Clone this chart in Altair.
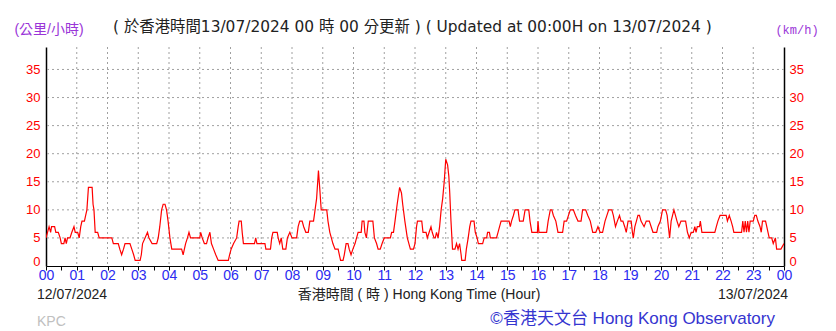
import altair as alt
import pandas as pd

# ---- data (hour of day, wind speed km/h) ----
hours = [0.00,0.05,0.10,0.15,0.18,0.28,0.32,0.40,0.46,0.50,0.58,0.62,0.66,0.70,0.78,0.84,0.91,0.95,1.03,1.08,
         1.13,1.17,1.25,1.29,1.33,1.38,1.50,1.53,1.56,1.60,1.68,1.73,2.14,2.19,2.35,2.40,2.46,2.52,2.57,2.73,
         2.79,2.85,2.90,3.06,3.10,3.14,3.22,3.30,3.35,3.45,3.60,3.65,3.70,3.76,3.81,3.87,3.92,3.97,4.03,4.09,
         4.41,4.46,4.50,4.54,4.60,4.65,4.70,5.00,5.03,5.08,5.15,5.22,5.27,5.33,5.38,5.45,5.52,5.60,5.93,5.97,
         6.02,6.10,6.20,6.25,6.28,6.35,6.38,6.42,6.78,6.82,6.86,7.12,7.15,7.30,7.34,7.38,7.52,7.55,7.60,7.65,
         7.70,7.80,7.85,7.93,8.00,8.15,8.20,8.25,8.33,8.38,8.45,8.53,8.58,8.70,8.75,8.80,8.86,8.90,8.95,9.13,
         9.17,9.23,9.28,9.33,9.40,9.50,9.54,9.58,9.66,9.70,9.76,9.82,9.86,9.92,9.98,10.05,10.10,10.15,10.25,10.28,
         10.34,10.37,10.42,10.48,10.63,10.68,10.75,10.80,10.87,10.93,11.00,11.20,11.24,11.30,11.35,11.42,11.50,11.56,11.60,11.67,
         11.75,11.85,11.95,12.00,12.05,12.08,12.22,12.26,12.36,12.40,12.46,12.52,12.56,12.62,12.66,12.70,12.75,12.80,12.85,12.90,
         12.95,13.00,13.06,13.10,13.13,13.17,13.22,13.30,13.35,13.40,13.45,13.50,13.52,13.63,13.67,13.73,13.78,13.82,13.92,13.96,
         14.02,14.06,14.20,14.25,14.33,14.36,14.42,14.45,14.65,14.70,14.75,14.80,15.06,15.10,15.14,15.20,15.25,15.35,15.40,15.52,
         15.58,15.70,15.74,15.80,15.98,16.00,16.03,16.28,16.33,16.40,16.45,16.50,16.58,16.65,16.80,16.85,16.93,17.05,17.15,17.22,
         17.30,17.40,17.45,17.55,17.62,17.70,17.78,17.88,17.95,18.02,18.10,18.18,18.30,18.40,18.45,18.52,18.58,18.65,18.70,18.76,
         18.82,18.87,18.93,19.03,19.07,19.10,19.15,19.20,19.25,19.30,19.35,19.45,19.52,19.62,19.68,19.74,19.86,19.90,19.98,20.05,
         20.15,20.20,20.24,20.28,20.33,20.42,20.47,20.52,20.58,20.65,20.80,20.86,20.92,20.98,21.05,21.10,21.14,21.18,21.25,21.28,
         21.33,21.75,21.80,21.85,21.92,22.12,22.16,22.22,22.28,22.33,22.37,22.62,22.66,22.70,22.74,22.78,22.82,22.86,22.90,23.00,
         23.05,23.10,23.15,23.22,23.26,23.30,23.40,23.44,23.48,23.52,23.60,23.65,23.72,23.76,23.90,24.00]
speeds = [5,6,7,6,7,7,6,6,5,4,4,5,4,5,5,6,7,6,6,5,
          7,8,8,9,10,14,14,11,10,6,6,5,5,4,4,3,2,3,4,4,
          3,2,1,1,2,4,5,6,5,4,4,5,7,10,11,11,10,8,5,3,
          3,2,3,4,5,6,5,5,6,5,4,4,5,6,4,3,2,1,1,2,
          3,4,5,7,8,8,6,4,4,5,4,4,3,3,5,6,6,5,4,5,
          3,3,5,6,5,5,7,8,8,7,6,6,8,8,10,12,17,14,10,10,
          8,6,5,4,3,3,2,1,1,2,4,4,3,2,3,4,5,6,6,8,
          8,6,5,8,8,5,4,3,3,4,5,5,6,6,8,11,14,13,11,8,
          5,3,3,4,7,8,8,6,6,5,6,7,6,5,5,6,5,7,10,12,
          15,19,18,16,13,8,3,3,4,3,4,2,1,1,3,5,7,8,8,6,
          5,4,4,5,5,6,6,5,5,6,7,8,8,7,8,9,10,10,8,8,
          10,10,8,6,6,8,6,6,8,10,10,9,8,6,6,8,8,10,10,9,
          8,8,10,10,9,8,6,6,7,6,6,8,10,10,9,7,8,9,8,8,
          7,6,8,8,6,5,7,8,9,9,8,7,8,8,7,6,6,7,8,10,
          10,9,7,5,8,10,9,8,7,8,8,6,5,6,6,7,6,7,7,8,
          6,6,7,8,9,9,8,9,8,7,6,6,8,6,8,6,8,6,8,8,
          9,9,8,7,6,8,8,7,6,5,5,4,5,3,3,4]

grid_hours = list(range(1, 24))
grid_speeds = [5, 10, 15, 20, 25, 30, 35]
y_ticks = [0, 5, 10, 15, 20, 25, 30, 35]
x_ticks = [i / 2 for i in range(49)]

title_text = "( 於香港時間13/07/2024 00 時 00 分更新 ) ( Updated at 00:00H on 13/07/2024 )"
unit_left = "(公里/小時)"
unit_right = "(km/h)"
date_left = "12/07/2024"
date_right = "13/07/2024"
x_title = "香港時間 ( 時 ) Hong Kong Time (Hour)"
station = "KPC"
credit = "©香港天文台 Hong Kong Observatory"

W, H = 738, 219
SANS = "Liberation Sans, Noto Sans CJK TC, sans-serif"
WIDE = "DejaVu Sans, Noto Sans CJK TC, sans-serif"

df = pd.DataFrame({"h": hours, "v": speeds})

x_scale = alt.Scale(domain=[0, 24], nice=False, zero=False)
y_scale = alt.Scale(domain=[0, 39], nice=False)

x_axis = alt.Axis(
    values=x_ticks,
    labelExpr="datum.value % 1 == 0 ? ((datum.value % 24) < 10 ? '0' : '') + (datum.value % 24) : ''",
    title=None, grid=False, domainColor="black", domainWidth=1.2,
    tickColor="black", tickSize=4, labelColor="#2b2bf0", labelFont=SANS,
    labelFontSize=14, labelPadding=-2, labelOverlap=False, labelFlush=False,
    labelBound=False,
)
zero_up = {"condition": {"test": "datum.value == 0", "value": -5}, "value": 0}
left_axis = alt.Axis(
    values=y_ticks, title=None, grid=False, ticks=False, domainColor="black",
    domainWidth=1.5, labelColor="#ff0000", labelFont=SANS, labelFontSize=13,
    labelPadding=6, labelOverlap=False, orient="left", labelOffset=zero_up,
)
right_axis = alt.Axis(
    values=y_ticks, title=None, grid=False, ticks=False, domainColor="black",
    domainWidth=1.5, labelColor="#ff0000", labelFont=SANS, labelFontSize=13,
    labelPadding=5, labelOverlap=False, orient="right", labelOffset=zero_up,
)

grid_style = dict(color="#a0a0a0", strokeDash=[2, 3], strokeWidth=1)

vgrid = alt.Chart(pd.DataFrame({"h": grid_hours})).mark_rule(**grid_style).encode(
    x=alt.X("h:Q", scale=x_scale, axis=x_axis)
)
hgrid = alt.Chart(pd.DataFrame({"v": grid_speeds})).mark_rule(**grid_style).encode(
    y=alt.Y("v:Q", scale=y_scale, axis=right_axis)
)
line = alt.Chart(df).mark_line(color="#ff0000", strokeWidth=1.2, clip=True).encode(
    x=alt.X("h:Q", scale=x_scale, axis=x_axis),
    y=alt.Y("v:Q", scale=y_scale, axis=left_axis),
)


def label(text, x, y, align="left", size=14, color="#222222", font=SANS):
    return alt.Chart(pd.DataFrame({"t": [text]})).mark_text(
        align=align, baseline="alphabetic", fontSize=size, color=color, font=font
    ).encode(text="t:N", x=alt.value(x), y=alt.value(y))


texts = [
    label(unit_left, 3, -13, align="center", size=14, color="#9a35d8"),
    label(unit_right, 751, -13, align="center", size=12, color="#9a35d8",
          font="Liberation Mono, monospace"),
    label(title_text, 67, -15, align="left", size=15.4, color="#222222", font=WIDE),
    label(date_left, -9, 252, align="left", size=14, color="#222222"),
    label(x_title, 373, 252, align="center", size=14, color="#222222"),
    label(date_right, 742, 252, align="right", size=14, color="#222222"),
    label(station, -9, 279, align="left", size=14, color="#c0c0c0"),
    label(credit, 729, 277, align="right", size=17, color="#3535d0"),
]

chart = alt.layer(vgrid, hgrid, line, *texts).resolve_axis(y="independent").properties(
    width=W, height=H,
    padding={"left": 46, "top": 47, "right": 52, "bottom": 65},
    autosize=alt.AutoSizeParams(type="none"),
    background="white",
).configure_view(stroke=None)

chart.save("out.html", embed_options={"renderer": "svg", "actions": False})
